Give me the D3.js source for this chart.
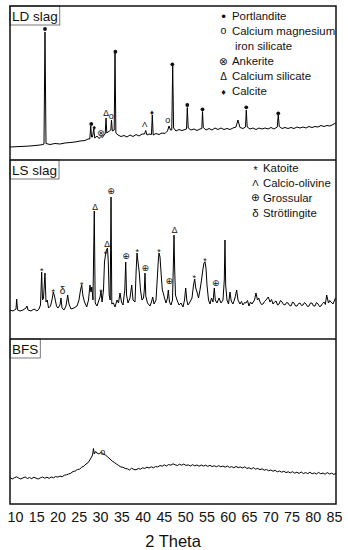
<!DOCTYPE html>
<html lang="en">
<head>
<meta charset="utf-8">
<title>XRD patterns - LD slag, LS slag, BFS</title>
<script src="https://cdn.jsdelivr.net/npm/d3@7"></script>
<style>
	body {
		margin: 0px;
		padding: 0px;
		background: #fff;
	}

	text {
		font-family: "Liberation Sans", Arial, "DejaVu Sans", sans-serif;
		fill: #111;
	}

	.pattern {
		fill: none;
		stroke: #000;
		stroke-width: 1;
		stroke-linejoin: round;
	}

	.mark {
		font-family: "Liberation Sans", "DejaVu Sans", sans-serif;
		text-anchor: middle;
	}

	.legend-text {
		font-size: 11.4px;
	}

	.panel-name {
		font-size: 13.5px;
	}

	.tick text {
		font-size: 14.3px;
	}
</style>
</head>

<body>
	<div id="chart"></div>
	<script>

		// LD slag pattern (2 theta, intensity a.u.)
		var ldTheta = [10.00, 12.30, 14.60, 16.90, 17.59, 17.82, 18.05, 18.28, 19.20, 20.35, 21.50, 22.65, 23.80, 24.95, 26.10, 27.25, 27.94,
			28.36, 28.57, 28.77, 28.98, 29.26, 29.51, 30.01, 30.47, 30.94, 31.28, 31.63, 31.90, 32.09, 32.27, 32.55, 32.89, 33.19, 33.35,
			33.54, 33.97, 34.16, 34.36, 34.85, 35.54, 36.23, 36.92, 37.61, 38.30, 38.99, 39.68, 40.37, 40.94, 41.22, 41.52, 41.98, 42.55,
			42.74, 42.94, 43.59, 44.28, 44.97, 45.66, 46.23, 46.58, 46.92, 47.22, 47.43, 47.64, 48.19, 48.88, 49.57, 50.26, 50.61, 50.79,
			51.00, 51.64, 52.33, 53.02, 53.71, 54.13, 54.29, 54.47, 55.09, 55.78, 56.47, 57.16, 57.85, 58.54, 59.23, 59.92, 60.61, 61.30,
			61.99, 62.45, 62.91, 63.60, 64.18, 64.36, 64.57, 65.21, 65.90, 66.59, 67.28, 67.97, 68.66, 69.35, 70.05, 70.74, 71.49, 71.72,
			71.95, 72.58, 73.27, 73.96, 74.65, 75.34, 76.03, 76.72, 77.41, 78.10, 78.79, 79.48, 80.17, 80.86, 81.55, 82.24, 82.93, 83.62,
			84.31, 84.93];
		var ldCounts = [130, 135, 140, 150, 155, 160, 1280, 165, 155, 165, 160, 170, 175, 180, 190, 195, 210,
			210, 340, 230, 230, 310, 220, 240, 215, 235, 225, 250, 260, 420, 270, 280, 290, 300, 400,
			290, 300, 1070, 270, 250, 235, 245, 230, 250, 235, 255, 240, 260, 260, 295, 250, 260, 255,
			450, 250, 265, 255, 270, 265, 290, 340, 300, 300, 940, 320, 290, 305, 295, 305, 310, 525,
			320, 300, 310, 295, 310, 315, 485, 325, 300, 315, 300, 320, 305, 320, 305, 315, 305, 320,
			330, 400, 325, 315, 330, 500, 330, 310, 320, 305, 320, 310, 320, 310, 325, 310, 330, 455,
			335, 315, 325, 315, 325, 315, 330, 320, 330, 320, 335, 325, 335, 330, 345, 335, 345, 340,
			355, 370];

		// LS slag pattern
		var lsTheta = [10.00, 10.69, 11.38, 11.54, 11.73, 12.30, 12.99, 13.68, 13.91, 14.14, 14.83, 15.52, 16.21, 16.67, 17.02, 17.29,
			17.48, 17.71, 18.05, 18.28, 18.58, 18.86, 19.32, 19.66, 19.96, 20.24, 20.42, 20.70, 21.04, 21.50, 21.73, 21.96, 22.42, 22.88,
			23.27, 23.57, 24.03, 24.72, 25.41, 25.87, 26.22, 26.49, 26.79, 27.14, 27.65, 28.06, 28.40, 28.63, 28.82, 29.09, 29.39, 29.60,
			30.01, 30.47, 30.71, 30.94, 31.17, 31.51, 31.74, 31.97, 32.20, 32.43, 32.61, 32.82, 33.05, 33.24, 33.42, 33.77, 34.16, 34.62,
			34.96, 35.31, 35.65, 36.00, 36.41, 36.62, 36.82, 37.15, 37.61, 38.00, 38.30, 38.76, 39.03, 39.22, 39.45, 39.75, 40.02, 40.37,
			40.71, 40.90, 41.06, 41.24, 41.63, 42.21, 42.55, 42.83, 43.13, 43.59, 43.93, 44.16, 44.28, 44.51, 44.79, 45.04, 45.27, 45.54,
			45.89, 46.23, 46.42, 46.69, 47.04, 47.38, 47.61, 47.73, 47.89, 48.07, 48.42, 48.88, 49.34, 49.80, 50.15, 50.42, 50.67, 50.95,
			51.41, 51.87, 52.22, 52.49, 52.74, 53.02, 53.37, 53.71, 54.06, 54.36, 54.63, 54.86, 55.09, 55.32, 55.67, 56.01, 56.36, 56.70,
			57.00, 57.23, 57.62, 58.08, 58.54, 59.00, 59.30, 59.46, 59.62, 59.92, 60.27, 60.61, 60.89, 61.30, 61.76, 62.15, 62.45, 62.91,
			63.25, 63.60, 63.95, 64.29, 64.64, 64.98, 65.33, 65.67, 66.25, 66.59, 66.94, 67.22, 67.52, 67.87, 68.21, 68.55, 68.90, 69.42,
			69.82, 70.17, 70.51, 70.86, 71.20, 71.55, 71.89, 72.24, 72.58, 72.93, 73.27, 73.62, 73.96, 74.31, 74.65, 75.00, 75.34, 75.69,
			76.03, 76.38, 76.72, 77.07, 77.41, 77.76, 78.10, 78.45, 78.79, 79.14, 79.48, 79.83, 80.17, 80.52, 80.86, 81.21, 81.55, 81.90,
			82.24, 82.55, 82.86, 83.27, 83.55, 83.85, 84.31, 84.60, 84.88];
		var lsCounts = [290, 280, 300, 400, 290, 280, 290, 310, 330, 290, 280, 300, 280, 300, 340, 670,
			390, 410, 660, 370, 390, 310, 330, 390, 470, 430, 390, 330, 310, 340, 410, 310, 290, 330,
			440, 350, 300, 310, 330, 390, 490, 540, 430, 370, 320, 390, 540, 470, 520, 390, 1280, 360,
			330, 390, 420, 480, 370, 490, 770, 840, 890, 910, 770, 440, 390, 1420, 350, 360, 320, 390,
			360, 460, 370, 340, 490, 770, 440, 360, 410, 540, 390, 370, 690, 860, 770, 660, 490, 390,
			410, 490, 660, 430, 360, 330, 370, 420, 350, 390, 640, 810, 860, 820, 640, 490, 460, 410,
			360, 410, 490, 370, 340, 390, 790, 1040, 690, 440, 390, 340, 360, 320, 390, 510, 390, 340,
			370, 410, 540, 600, 510, 470, 410, 490, 590, 690, 760, 773, 710, 540, 390, 350, 410, 370,
			510, 390, 360, 410, 360, 390, 590, 990, 540, 390, 350, 470, 380, 350, 410, 490, 390, 350,
			375, 340, 365, 360, 385, 330, 370, 350, 390, 460, 390, 410, 370, 345, 350, 375, 390, 420,
			370, 395, 350, 370, 380, 340, 350, 385, 370, 345, 340, 365, 360, 335, 330, 370, 360, 330,
			330, 355, 360, 335, 340, 365, 350, 325, 330, 360, 360, 330, 330, 365, 350, 325, 330, 355,
			370, 345, 440, 360, 385, 370, 350, 380, 410];

		// BFS pattern
		var bfsTheta = [10, 10.5, 11, 11.5, 12, 12.5, 13, 13.5, 14, 14.5, 15, 15.5, 16, 16.5, 17, 17.5, 18, 18.5, 19, 19.5,
			20, 20.5, 21, 21.5, 22, 22.5, 23, 23.5, 24, 24.5, 25, 25.5, 26, 26.5, 27, 27.5, 28, 28.5, 29, 29.2, 29.4, 29.7,
			30, 30.5, 31, 31.5, 32, 32.5, 33, 33.5, 34, 34.5, 35, 35.5, 36, 36.5, 37, 37.5, 38, 38.5, 39, 39.5,
			40, 40.5, 41, 41.5, 42, 42.5, 43, 43.5, 44, 44.5, 45, 45.5, 46, 46.5, 47, 47.5, 48, 48.5, 49, 49.5,
			50, 50.5, 51, 51.5, 52, 52.5, 53, 53.5, 54, 54.5, 55, 55.5, 56, 56.5, 57, 57.5, 58, 58.5, 59, 59.5,
			60, 60.5, 61, 61.5, 62, 62.5, 63, 63.5, 64, 64.5, 65, 65.5, 66, 66.5, 67, 67.5, 68, 68.5, 69, 69.5,
			70, 70.5, 71, 71.5, 72, 72.5, 73, 73.5, 74, 74.5, 75, 75.5, 76, 76.5, 77, 77.5, 78, 78.5, 79, 79.5,
			80, 80.5, 81, 81.5, 82, 82.5, 83, 83.5, 84, 84.5, 85];
		var bfsCounts = [265, 250, 262, 272, 260, 250, 262, 270, 255, 265, 253, 268, 258, 250, 262, 270, 258, 268, 256, 270,
			262, 275, 268, 280, 272, 288, 292, 300, 308, 325, 330, 345, 348, 368, 378, 400, 415, 450, 490, 555, 500, 525,
			510, 500, 520, 500, 488, 470, 450, 430, 415, 400, 385, 370, 368, 355, 352, 340, 358, 345, 342, 355,
			348, 362, 355, 368, 360, 372, 362, 375, 370, 385, 378, 392, 380, 395, 388, 402, 392, 385, 398, 388,
			400, 385, 392, 380, 393, 382, 390, 378, 390, 380, 388, 376, 387, 374, 383, 372, 384, 372, 380, 368,
			380, 366, 374, 362, 376, 364, 370, 360, 372, 356, 362, 350, 364, 348, 356, 343, 352, 338, 345, 332,
			340, 328, 336, 322, 330, 318, 328, 314, 322, 312, 323, 308, 318, 306, 320, 305, 314, 304, 318, 302,
			311, 300, 316, 302, 310, 298, 314, 300, 308, 296, 306];

		// phase markers above the peaks
		var ldMarkTheta = [18.05, 28.70, 29.39, 30.87, 32.09, 33.30, 34.25, 40.99, 42.67, 46.28, 47.35, 50.79, 54.29, 64.36, 71.72];
		var ldMarkCounts = [1310, 360, 327, 273, 467, 430, 1083, 360, 480, 393, 957, 550, 507, 527, 467];
		var ldMarkSym = ["•", "•", "♦", "⊗", "Δ", "o", "•", "Λ", "♦", "o", "•", "•", "•", "•", "•"];

		var lsMarkTheta = [17.29, 19.96, 22.08, 26.49, 29.55, 30.94, 31.97, 32.32, 33.24, 36.69, 39.29, 41.13, 44.28, 46.65, 47.84, 52.40, 54.86, 57.32];
		var lsMarkCounts = [707, 497, 490, 563, 1323, 497, 875, 955, 1475, 830, 890, 707, 890, 583, 1095, 630, 807, 563];
		var lsMarkSym = ["*", "*", "δ", "*", "Δ", "*", "*", "Δ", "⊕", "⊕", "*", "⊕", "*", "⊕", "Δ", "*", "*", "⊕"];

		var bfsMarkTheta = [31.33];
		var bfsMarkCounts = [513];
		var bfsMarkSym = ["o"];

		// legends
		var ldLegendSym = ["•", "o", "", "⊗", "Δ", "♦"];
		var ldLegendText = ["Portlandite", "Calcium magnesium", "iron silicate", "Ankerite", "Calcium silicate", "Calcite"];
		var lsLegendSym = ["*", "Λ", "⊕", "δ"];
		var lsLegendText = ["Katoite", "Calcio-olivine", "Grossular", "Strötlingite"];

		var xTicks = [10, 15, 20, 25, 30, 35, 40, 45, 50, 55, 60, 65, 70, 75, 80, 85];
		var xTitle = "2 Theta";

		// Layout
		{
			var width = 348,
				height = 550;
			var frame = { left: 10, right: 336, top: 6, bottom: 504 };

			var x = d3.scaleLinear().domain([10, 85]).range([frame.left, frame.right]);
			// tick numbers sit a little inside the frame in the original figure
			var xLab = d3.scaleLinear().domain([10, 85]).range([15, 334]);

			// glyph size and vertical centering for each marker symbol
			var symStyle = {
				"•": { size: 12, dy: 0.33 },
				"♦": { size: 7.5, dy: 0.36 },
				"o": { size: 9, dy: 0.27 },
				"⊗": { size: 9, dy: 0.33 },
				"⊕": { size: 9, dy: 0.33 },
				"Δ": { size: 8.5, dy: 0.36 },
				"Λ": { size: 8, dy: 0.36 },
				"δ": { size: 10, dy: 0.36 },
				"*": { size: 9, dy: 0.6 }
			};

			var panels = [
				{
					name: "LD slag", top: frame.top, bottom: 160, yMax: 1540, lineWidth: 1,
					theta: ldTheta, counts: ldCounts,
					markTheta: ldMarkTheta, markCounts: ldMarkCounts, markSym: ldMarkSym,
					legendSym: ldLegendSym, legendText: ldLegendText, legendX: 223.5, legendY: 20, textX: 232
				},
				{
					name: "LS slag", top: 160, bottom: 339, yMax: 1790, lineWidth: 1,
					theta: lsTheta, counts: lsCounts,
					markTheta: lsMarkTheta, markCounts: lsMarkCounts, markSym: lsMarkSym,
					legendSym: lsLegendSym, legendText: lsLegendText, legendX: 255.5, legendY: 171.7, textX: 263
				},
				{
					name: "BFS", top: 339, bottom: frame.bottom, yMax: 1650, lineWidth: 1.6,
					theta: bfsTheta, counts: bfsCounts,
					markTheta: bfsMarkTheta, markCounts: bfsMarkCounts, markSym: bfsMarkSym,
					legendSym: [], legendText: []
				}
			];
		}

		var svg = d3.select("#chart").append("svg")
			.attr("width", width)
			.attr("height", height);

		svg.append("rect")
			.attr("width", width)
			.attr("height", height)
			.attr("fill", "#fff");

		panels.forEach(function (p) {
			var y = d3.scaleLinear().domain([0, p.yMax]).range([p.bottom, p.top]);
			var g = svg.append("g");

			var line = d3.line()
				.x(function (d) { return x(d[0]); })
				.y(function (d) { return y(d[1]); });

			g.append("path")
				.datum(d3.zip(p.theta, p.counts))
				.attr("class", "pattern")
				.attr("stroke-width", p.lineWidth)
				.attr("d", line);

			var marks = d3.zip(p.markTheta, p.markCounts, p.markSym);

			// portlandite dots are drawn as small filled circles
			g.selectAll("circle.dot")
				.data(marks.filter(function (d) { return d[2] == "•"; }))
				.enter().append("circle")
				.attr("class", "dot")
				.attr("cx", function (d) { return x(d[0]); })
				.attr("cy", function (d) { return y(d[1]); })
				.attr("r", 1.9)
				.attr("fill", "#111");

			// the other phase symbols are glyphs
			g.selectAll("text.mark")
				.data(marks.filter(function (d) { return d[2] != "•"; }))
				.enter().append("text")
				.attr("class", "mark")
				.attr("x", function (d) { return x(d[0]); })
				.attr("y", function (d) { return y(d[1]); })
				.attr("dy", function (d) { return symStyle[d[2]].dy + "em"; })
				.style("font-size", function (d) { return symStyle[d[2]].size + "px"; })
				.text(function (d) { return d[2]; });

			// legend
			var rows = g.selectAll("g.legend-row")
				.data(d3.zip(p.legendSym, p.legendText))
				.enter().append("g")
				.attr("class", "legend-row")
				.attr("transform", function (d, i) { return "translate(0," + (p.legendY + i * 15) + ")"; });

			rows.append("text")
				.attr("class", "mark")
				.attr("x", p.legendX)
				.attr("y", -3.7)
				.attr("dy", function (d) { return d[0] ? symStyle[d[0]].dy + "em" : 0; })
				.style("font-size", function (d) { return d[0] ? (symStyle[d[0]].size + 1.5) + "px" : "10px"; })
				.text(function (d) { return d[0]; });

			rows.append("text")
				.attr("class", "legend-text")
				.attr("x", function (d) { return d[0] ? p.textX : p.textX + 3; })
				.text(function (d) { return d[1]; });

			// sample name in a small box
			var nameText = g.append("text")
				.attr("class", "panel-name")
				.attr("x", frame.left + 2)
				.attr("y", p.top + 14.7)
				.text(p.name);
			var tw = nameText.node().getComputedTextLength();
			g.insert("rect", ".panel-name")
				.attr("x", frame.left)
				.attr("y", p.top)
				.attr("width", tw + 4)
				.attr("height", 19)
				.attr("fill", "#fff")
				.attr("stroke", "#555")
				.attr("stroke-width", 0.8);
		});

		// outer frame and panel dividers
		svg.append("rect")
			.attr("x", frame.left)
			.attr("y", frame.top)
			.attr("width", frame.right - frame.left)
			.attr("height", frame.bottom - frame.top)
			.attr("fill", "none")
			.attr("stroke", "#111")
			.attr("stroke-width", 1.5);

		svg.selectAll("line.divider")
			.data(panels.slice(1))
			.enter().append("line")
			.attr("class", "divider")
			.attr("x1", frame.left)
			.attr("x2", frame.right)
			.attr("y1", function (d) { return d.top; })
			.attr("y2", function (d) { return d.top; })
			.attr("stroke", "#111")
			.attr("stroke-width", 1.5);

		// x axis numbers only, no tick marks
		var axis = svg.append("g")
			.attr("transform", "translate(0," + frame.bottom + ")")
			.call(d3.axisBottom(xLab).tickValues(xTicks).tickSize(0).tickPadding(8));
		axis.select(".domain").remove();
		axis.selectAll(".tick text")
			.attr("fill", "#111")
			.style("font-family", "\"Liberation Sans\", Arial, sans-serif");

		svg.append("text")
			.attr("x", (frame.left + frame.right) / 2)
			.attr("y", 546.5)
			.attr("text-anchor", "middle")
			.style("font-size", "16.5px")
			.text(xTitle);

	</script>
</body>
</html>
